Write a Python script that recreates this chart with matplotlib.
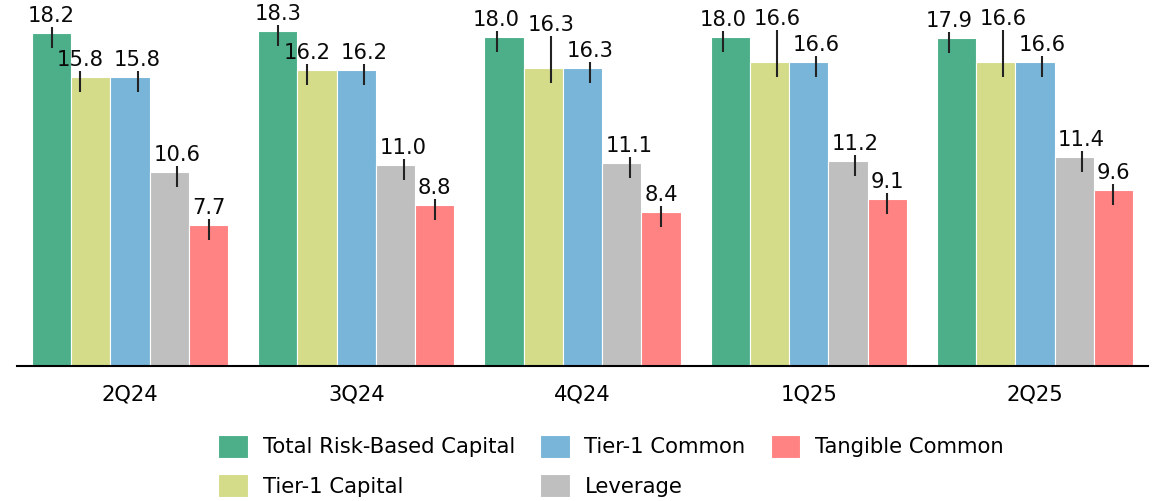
import matplotlib.pyplot as plt
import numpy as np

# Capital ratios (%) by quarter
quarters = ['2Q24', '3Q24', '4Q24', '1Q25', '2Q25']
series = ['Total Risk-Based Capital', 'Tier-1 Capital', 'Tier-1 Common',
          'Leverage', 'Tangible Common']
total_risk_based = [18.2, 18.3, 18.0, 18.0, 17.9]
tier1_capital = [15.8, 16.2, 16.3, 16.6, 16.6]
tier1_common = [15.8, 16.2, 16.3, 16.6, 16.6]
leverage = [10.6, 11.0, 11.1, 11.2, 11.4]
tangible_common = [7.7, 8.8, 8.4, 9.1, 9.6]

valores = [total_risk_based, tier1_capital, tier1_common, leverage, tangible_common]
colores = ['#4caf8a', '#d4dc8a', '#78b5d8', '#bfbfbf', '#ff8383']

# Desplazamiento horizontal de cada etiqueta (px) para que no se pisen
desplaz_x = [[0, -11, 7.5, 7.5, 0],
             [0, -10, 8, 8, 0],
             [-7.5, 7.5, 7.5, 8, 0],
             [-7.5, 7.5, 7.5, 7.5, 0],
             [-7.5, 7.5, 7.5, 7.5, 0]]
# Etiquetas que se suben (grupo, serie)
elevadas = {(2, 1), (3, 1), (4, 1)}

plt.rcParams['font.family'] = ['DejaVu Sans']
fig = plt.figure(figsize=(11.63, 5.01), dpi=100)
ax = fig.add_axes([17 / 1163, 135 / 501, 1131 / 1163, 366 / 501])

px_x = 1 / 226.2   # unidades de datos por pixel en x
px_y = 1 / 18.3    # unidades de datos por pixel en y

x = np.arange(len(quarters))
ancho = 0.1734
for i, (nombre, vals, color) in enumerate(zip(series, valores, colores)):
    pos = x + (i - 2) * ancho
    ax.bar(pos, vals, ancho, color=color, edgecolor='white', linewidth=0.8,
           label=nombre)
    for g, (xp, v) in enumerate(zip(pos, vals)):
        xl = xp + desplaz_x[g][i] * px_x
        off = (37 if (g, i) in elevadas else 11) * px_y
        ax.text(xl, v + off, f'{v:.1f}', ha='center', va='baseline',
                fontsize=15.2, color='#0a0a0a')
        ax.vlines(xl, v - 15 * px_y, v + off - 5 * px_y, color='#222222', lw=1.5)

ax.set_xlim(-0.5, 4.5)
ax.set_ylim(0, 20)
ax.set_xticks(x)
ax.set_xticklabels(quarters, fontsize=15.2)
ax.tick_params(axis='x', length=0, pad=13)
ax.set_yticks([])
for lado in ['left', 'right', 'top']:
    ax.spines[lado].set_visible(False)
ax.spines['bottom'].set_linewidth(1.5)

fig.legend(loc='center', bbox_to_anchor=(611 / 1163, 1 - 466 / 501), ncol=3,
           frameon=False, fontsize=15.2, handlelength=1.4, handleheight=1.25,
           handletextpad=0.7, columnspacing=1.2, labelspacing=0.8)

plt.savefig('out.png')
